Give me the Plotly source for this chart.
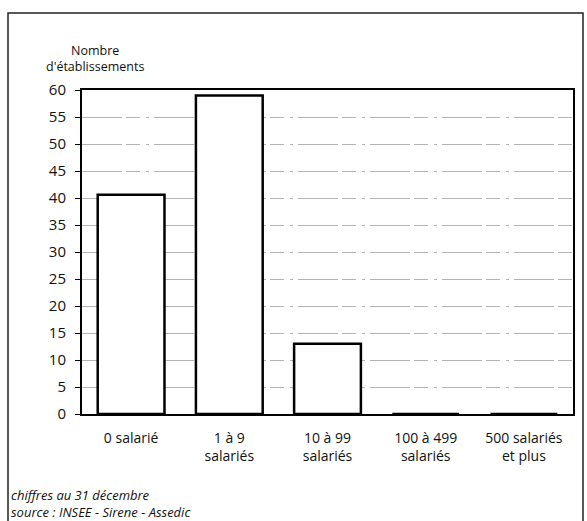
import plotly.graph_objects as go

categories = ["0 salarié", "1 à 9<br>salariés", "10 à 99<br>salariés",
              "100 à 499<br>salariés", "500 salariés<br>et plus"]
values = [40.6, 59, 13, 0, 0]
y_ticks = list(range(0, 61, 5))

W, H = 587, 521
L, R, T, B = 82, 14, 90, 107
pw, ph = W - L - R, H - T - B

def px(x):
    return (x - L) / pw

def py(y):
    return (H - B - y) / ph

font = "Open Sans, DejaVu Sans, sans-serif"

fig = go.Figure(go.Bar(
    x=categories, y=values, width=0.68,
    marker=dict(color="white", line=dict(color="black", width=2.5)),
))

fig.update_layout(
    width=W, height=H,
    margin=dict(l=L, r=R, t=T, b=B),
    paper_bgcolor="white", plot_bgcolor="white",
    showlegend=False,
    font=dict(family=font, size=14, color="#111"),
    xaxis=dict(showline=True, linecolor="black", linewidth=2, mirror=True,
               ticks="", showgrid=False, tickfont=dict(size=14),
               ticklabelstandoff=10),
    yaxis=dict(range=[0, 60], tickvals=y_ticks, showline=True, linecolor="black",
               linewidth=2, mirror=True, ticks="outside", ticklen=5,
               tickcolor="black", tickwidth=1, ticklabelstandoff=6,
               showgrid=True, gridcolor="#b4b4b4", gridwidth=1,
               griddash="40px,4px,14px,6px,3px,5px",
               tickfont=dict(size=15), zeroline=False),
    shapes=[dict(type="rect", xref="paper", yref="paper",
                 x0=px(8), x1=px(583), y0=py(530), y1=py(13),
                 line=dict(color="#222", width=1.5), fillcolor="rgba(0,0,0,0)",
                 layer="below")],
    annotations=[
        dict(text="Nombre<br>d'établissements", xref="paper", yref="paper",
             x=px(95), y=py(40), xanchor="center", yanchor="top", showarrow=False,
             align="center", font=dict(size=12.5)),
        dict(text="<i>chiffres au 31 décembre</i><br><i>source : INSEE - Sirene - Assedic</i>",
             xref="paper", yref="paper", x=px(9), y=py(484), xanchor="left",
             yanchor="top", showarrow=False, align="left", font=dict(size=13)),
    ],
)

fig.write_html("out.html", config={"displayModeBar": False},
               post_script="document.body.style.margin='0';")
